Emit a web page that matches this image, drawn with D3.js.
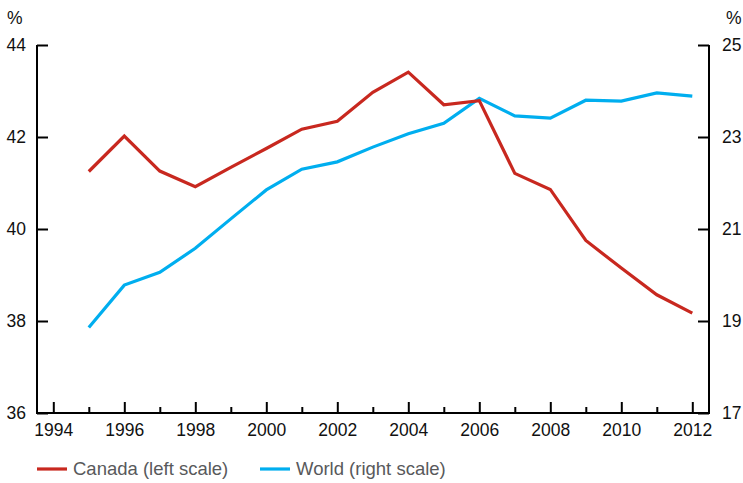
<!DOCTYPE html>
<html>
<head>
<meta charset="utf-8">
<script src="https://cdn.jsdelivr.net/npm/d3@7"></script>
<style>
  body { margin: 0; background: #fff; }
  svg { display: block; font-family: "Liberation Sans", Arial, sans-serif; }
</style>
</head>
<body>
<div id="chart"></div>
<script>
// Data
const years = [1995, 1996, 1997, 1998, 1999, 2000, 2001, 2002, 2003, 2004, 2005, 2006, 2007, 2008, 2009, 2010, 2011, 2012];
const canada = [41.25, 42.02, 41.26, 40.92, 41.34, 41.75, 42.17, 42.34, 42.97, 43.41, 42.70, 42.79, 41.21, 40.86, 39.75, 39.15, 38.57, 38.17];
const world = [18.86, 19.78, 20.06, 20.58, 21.22, 21.85, 22.30, 22.46, 22.78, 23.07, 23.30, 23.84, 23.46, 23.41, 23.80, 23.78, 23.96, 23.89];
const leftTicks = [36, 38, 40, 42, 44];
const rightTicks = [17, 19, 21, 23, 25];
const majorYears = [1994, 1996, 1998, 2000, 2002, 2004, 2006, 2008, 2010, 2012];
const minorYears = [1995, 1997, 1999, 2001, 2003, 2005, 2007, 2009, 2011];
const legendItems = [
    { label: "Canada (left scale)", color: "#c8281f" },
    { label: "World (right scale)", color: "#00aeef" }
];

const width = 743;
const height = 483;
const axisLeftX = 37;
const axisRightX = 709;
const plotTop = 45;
const plotBottom = 413;
const fontSize = "17.5px";

const svg = d3.select("#chart")
    .append("svg")
    .attr("width", width)
    .attr("height", height);

const x = d3.scaleLinear().domain([1994, 2012]).range([53.3, 692.3]);
const yLeft = d3.scaleLinear().domain([36, 44]).range([plotBottom, plotTop]);
const yRight = d3.scaleLinear().domain([17, 25]).range([plotBottom, plotTop]);

// Major x ticks with labels
const xMajor = svg.append("g")
    .attr("transform", `translate(0, ${plotBottom})`)
    .call(d3.axisBottom(x).tickValues(majorYears).tickFormat(d3.format("d")).tickSize(-11).tickPadding(11));
xMajor.select(".domain").remove();

// Minor x ticks
const xMinor = svg.append("g")
    .attr("transform", `translate(0, ${plotBottom})`)
    .call(d3.axisBottom(x).tickValues(minorYears).tickFormat("").tickSize(-6));
xMinor.select(".domain").remove();

// Left axis
const gLeft = svg.append("g")
    .attr("transform", `translate(${axisLeftX}, 0)`)
    .call(d3.axisLeft(yLeft).tickValues(leftTicks).tickSize(-11).tickPadding(11));
gLeft.select(".domain").remove();

// Right axis
const gRight = svg.append("g")
    .attr("transform", `translate(${axisRightX}, 0)`)
    .call(d3.axisRight(yRight).tickValues(rightTicks).tickSize(-11).tickPadding(13));
gRight.select(".domain").remove();

// Axis frame lines
svg.append("path")
    .attr("d", `M${axisLeftX},${plotTop}V${plotBottom}H${axisRightX}V${plotTop}`)
    .attr("fill", "none")
    .attr("stroke", "#000")
    .attr("stroke-width", 2);

svg.selectAll(".tick line").attr("stroke", "#000").attr("stroke-width", 2);
svg.selectAll(".tick text").attr("fill", "#111").style("font-size", fontSize);

// Percent units
svg.append("text").attr("x", 7).attr("y", 24).text("%").style("font-size", fontSize).attr("fill", "#111");
svg.append("text").attr("x", 726).attr("y", 24).text("%").style("font-size", fontSize).attr("fill", "#111");

// Lines
const lineLeft = d3.line().x((d, i) => x(years[i])).y((d) => yLeft(d));
const lineRight = d3.line().x((d, i) => x(years[i])).y((d) => yRight(d));

svg.append("path")
    .datum(world)
    .attr("d", lineRight)
    .attr("fill", "none")
    .attr("stroke", legendItems[1].color)
    .attr("stroke-width", 3.2);

svg.append("path")
    .datum(canada)
    .attr("d", lineLeft)
    .attr("fill", "none")
    .attr("stroke", legendItems[0].color)
    .attr("stroke-width", 3.2);

// Legend
const legendX = [37, 260];
const legend = svg.selectAll(".legend-item")
    .data(legendItems)
    .enter()
    .append("g")
    .attr("class", "legend-item")
    .attr("transform", (d, i) => `translate(${legendX[i]}, 469)`);

legend.append("line")
    .attr("x1", 0).attr("x2", 30)
    .attr("stroke", (d) => d.color)
    .attr("stroke-width", 3.2);

legend.append("text")
    .attr("x", 36)
    .attr("dy", "0.35em")
    .text((d) => d.label)
    .style("font-size", "18.5px")
    .attr("fill", "#58595b");
</script>
</body>
</html>
